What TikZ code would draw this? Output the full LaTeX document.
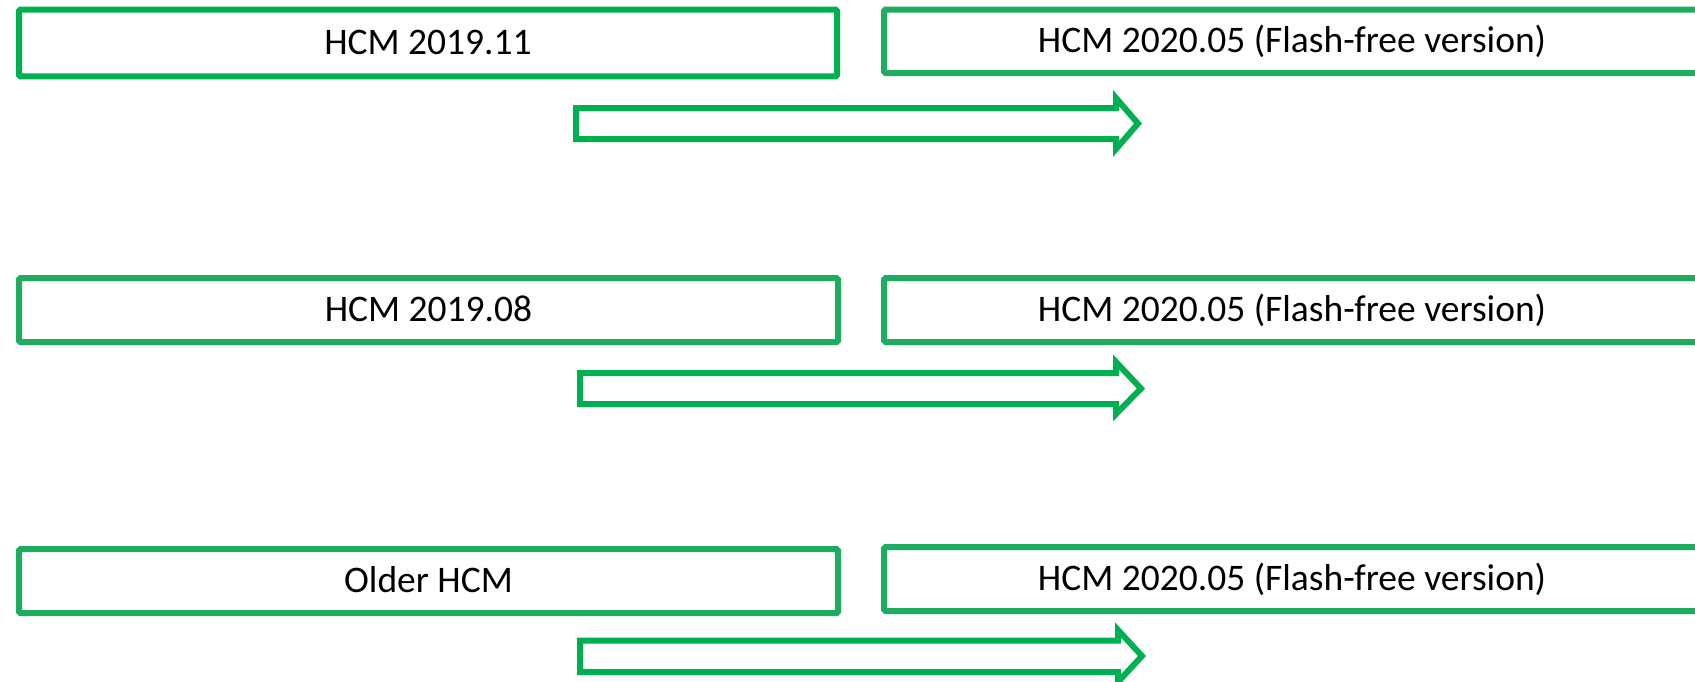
\documentclass[tikz,border=0pt]{standalone}
\usepackage{fontspec}
\setmainfont{Carlito}
\definecolor{gA}{HTML}{00B050}
\definecolor{gB}{HTML}{1DAC60}
\begin{document}
\begin{tikzpicture}[x=1pt,y=-1pt,
  verbox/.style={draw=#1, line width=6pt, rounded corners=1.5pt, inner sep=0pt,
    text height=23pt, text depth=0pt,
    font=\fontsize{37.5}{42}\selectfont, text=black},
  bigarrow/.style={draw=gA, line width=6pt, line join=miter}]
\useasboundingbox (0,0) rectangle (1695,681);
\clip (0,0) rectangle (1695,681);
% row 1
\node[verbox=gA, minimum width=818pt, minimum height=66.6pt] (old1) at (428,43) {HCM 2019.11};
\node[verbox=gB, minimum width=816pt, minimum height=63.5pt] (new1) at (1292,41.25) {HCM 2020.05 (Flash-free version)};
\draw[bigarrow] (576,108) -- (1116,108) -- (1116,98) -- (1138,123.5) -- (1116,149) -- (1116,139) -- (576,139) -- cycle;
% row 2
\node[verbox=gB, minimum width=819pt, minimum height=64pt] (old2) at (428.5,310) {HCM 2019.08};
\node[verbox=gB, minimum width=816pt, minimum height=64pt] (new2) at (1292,310) {HCM 2020.05 (Flash-free version)};
\draw[bigarrow] (580,373) -- (1116,373) -- (1116,362) -- (1141,388.5) -- (1116,414) -- (1116,404) -- (580,404) -- cycle;
% row 3
\node[verbox=gB, minimum width=819pt, minimum height=64pt] (old3) at (428.5,581) {Older HCM};
\node[verbox=gB, minimum width=816pt, minimum height=64pt] (new3) at (1292,579) {HCM 2020.05 (Flash-free version)};
\draw[bigarrow] (580,640.5) -- (1118,640.5) -- (1118,630) -- (1142,656) -- (1118,682) -- (1118,672) -- (580,672) -- cycle;
\end{tikzpicture}
\end{document}
